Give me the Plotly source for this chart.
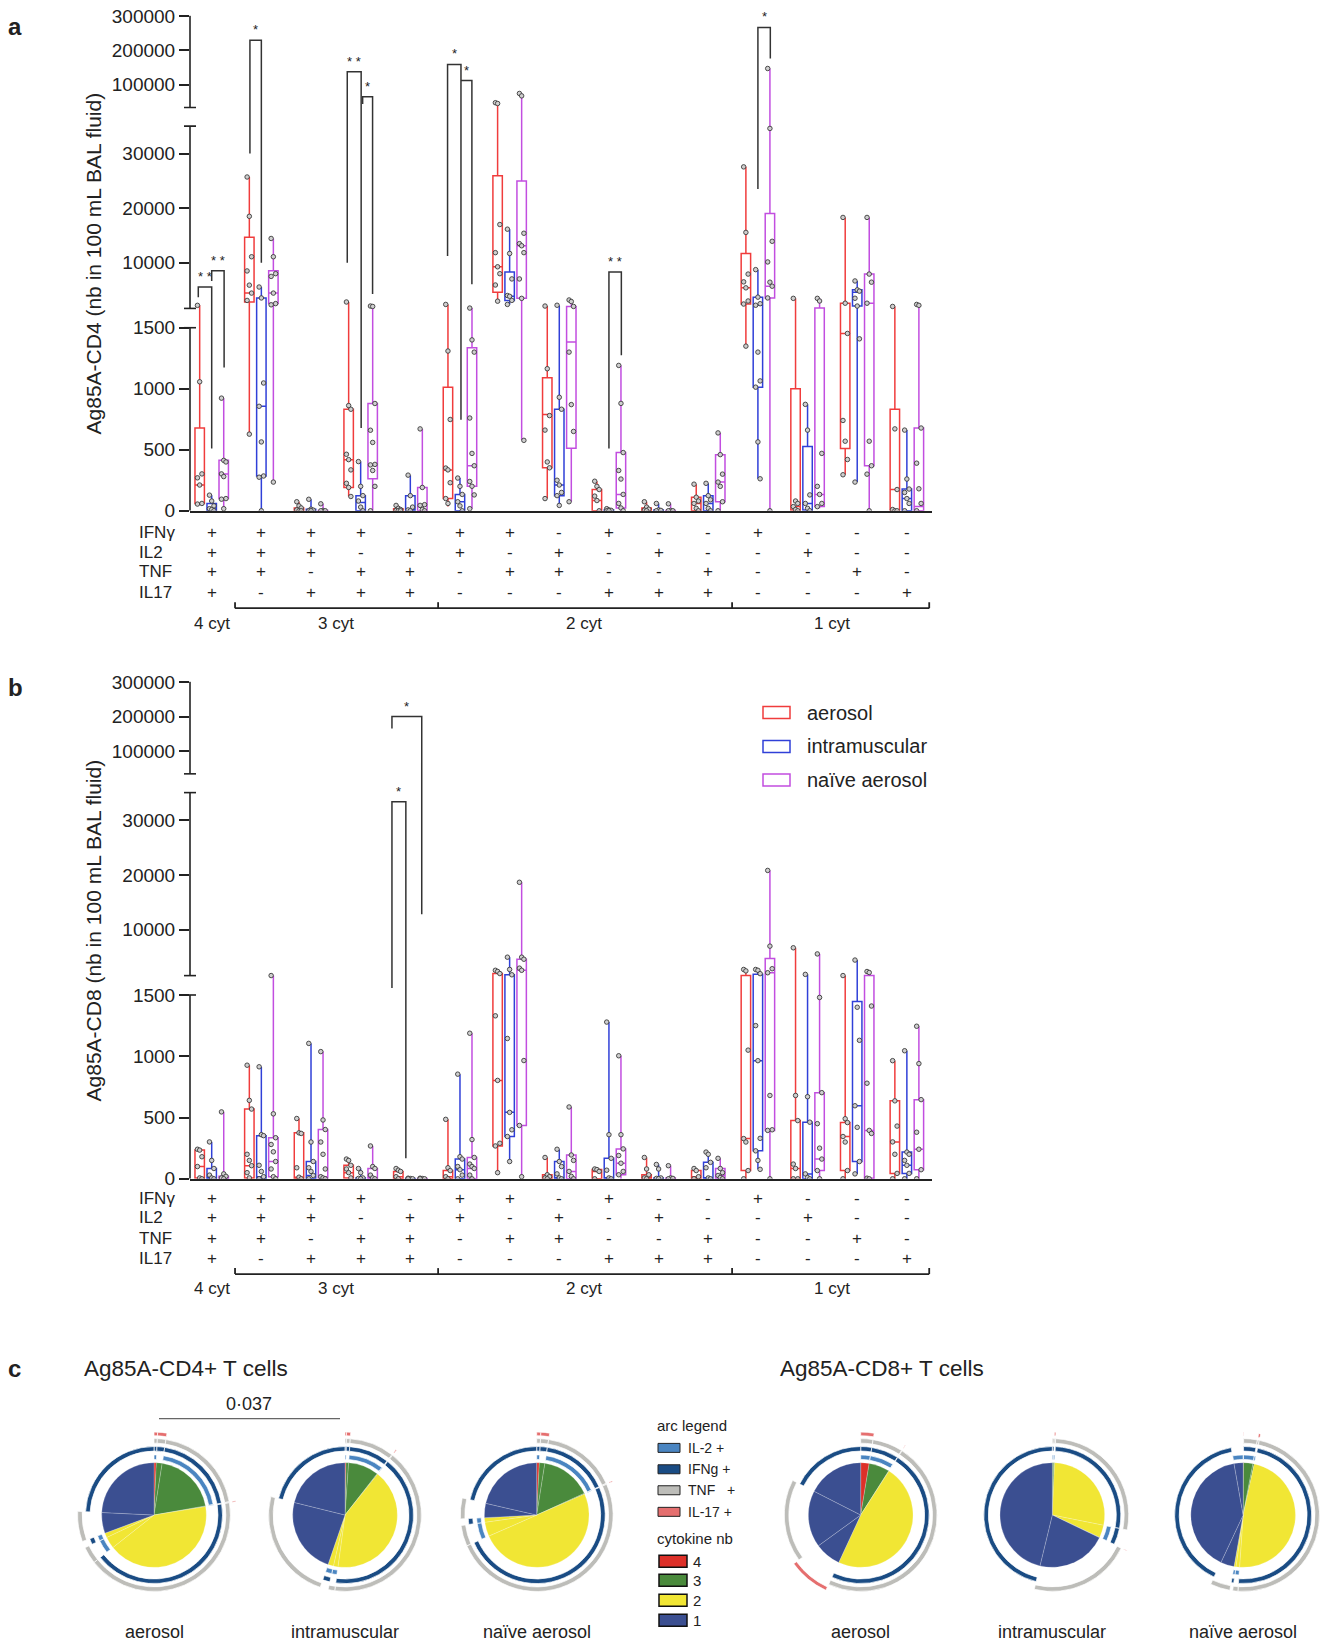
import plotly.graph_objects as go

FONT = "Liberation Sans, Arial, Helvetica, sans-serif"
W, H = 1327, 1652

# ---------------- data ----------------
SUBSETS = ["++++", "+++-", "++-+", "+-++", "-+++",
           "++--", "+-+-", "-++-", "+--+", "-+-+", "--++",
           "+---", "-+--", "--+-", "---+"]          # order: IFNγ, IL2, TNF, IL17
CYTOKINES = ["IFNγ", "IL2", "TNF", "IL17"]
CYT_GROUPS = [("4 cyt", 0, 0), ("3 cyt", 1, 4), ("2 cyt", 5, 10), ("1 cyt", 11, 14)]
SERIES = ["aerosol", "intramuscular", "naïve aerosol"]
SERIES_COLORS = ["#f03c3c", "#3040d8", "#c24ee0"]
Y_TICKS = [0, 500, 1000, 1500, 10000, 20000, 30000, 100000, 200000, 300000]

# box statistics per subset: (min, q1, median, q3, max)
CD4_AEROSOL = [(55, 60, 211, 678, 2200), (628, 2815, 4444, 14667, 25700), (0, 0, 7, 23, 74),
               (117, 191, 419, 832, 2815), (0, 0, 3, 17, 44), (34, 100, 335, 1013, 2370),
               (2963, 4593, 9260, 25926, 47000), (100, 352, 789, 1091, 2074), (0, 0, 84, 174, 242),
               (0, 0, 13, 23, 74), (0, 0, 60, 111, 218), (1349, 2444, 5407, 11704, 27556),
               (0, 7, 34, 1000, 3481), (295, 510, 1453, 2593, 18296), (0, 7, 174, 832, 2000)]
CD4_IM = [(0, 0, 17, 60, 128), (0, 285, 856, 3556, 5556), (0, 0, 3, 13, 94),
          (0, 0, 67, 124, 403), (0, 0, 7, 124, 292), (0, 0, 74, 134, 268),
          (2370, 3111, 3852, 8296, 16148), (44, 124, 211, 832, 2222), (0, 0, 3, 7, 17),
          (0, 0, 3, 7, 60), (0, 0, 60, 124, 225), (262, 1013, 2222, 3704, 8741),
          (0, 7, 60, 527, 872), (235, 2074, 4593, 5037, 6667), (0, 0, 100, 178, 661)]
CD4_NAIVE = [(17, 100, 302, 413, 923), (235, 2519, 4444, 8519, 14444), (0, 0, 0, 3, 57),
             (0, 262, 376, 879, 2074), (0, 0, 44, 191, 671), (17, 201, 369, 1336, 1704),
             (577, 3481, 13111, 24963, 74000), (74, 513, 1383, 2000, 3185), (0, 23, 134, 477, 1191),
             (0, 0, 0, 3, 57), (0, 74, 235, 460, 638), (0, 3556, 5704, 19037, 147000),
             (20, 34, 134, 1704, 3481), (0, 369, 2593, 7926, 18296), (0, 0, 34, 678, 2370)]

CD8_AEROSOL = [(0, 7, 100, 234, 241), (0, 7, 107, 569, 927), (0, 3, 13, 375, 492),
               (0, 7, 50, 110, 161), (0, 0, 17, 60, 84), (0, 0, 17, 67, 485),
               (50, 268, 803, 2015, 2612), (0, 0, 17, 33, 174), (0, 0, 60, 75, 80),
               (0, 0, 7, 33, 174), (0, 0, 17, 67, 84), (0, 67, 328, 1650, 2761),
               (0, 0, 84, 475, 6716), (0, 67, 345, 459, 1650), (0, 44, 301, 636, 964)]
CD8_IM = [(0, 0, 7, 84, 301), (0, 0, 17, 352, 914), (0, 0, 27, 141, 1105),
          (0, 0, 3, 7, 84), (0, 0, 0, 2, 5), (0, 0, 74, 161, 854),
          (141, 345, 542, 1791, 5000), (0, 0, 7, 141, 241), (0, 0, 7, 167, 1279),
          (0, 0, 3, 7, 117), (0, 0, 7, 134, 218), (77, 228, 964, 1866, 2761),
          (0, 0, 40, 462, 1866), (40, 141, 596, 1446, 4478), (0, 44, 110, 218, 1045)]
CD8_NAIVE = [(0, 0, 7, 20, 546), (0, 17, 141, 335, 1650), (0, 7, 17, 402, 1038),
             (0, 0, 7, 84, 268), (0, 0, 0, 2, 5), (0, 0, 84, 174, 1188),
             (17, 435, 2612, 4627, 18657), (0, 0, 60, 194, 586), (0, 33, 127, 244, 1004),
             (0, 0, 3, 7, 107), (0, 0, 27, 84, 167), (0, 395, 2164, 4776, 20821),
             (0, 67, 161, 703, 5597), (0, 5, 395, 1650, 2388), (0, 74, 241, 646, 1245)]

# individual animals per subset
CD4_AEROSOL_PTS = [[2200, 1057, 302, 270, 211, 60, 55], [25700, 18500, 11100, 8500, 5900, 4444, 3100, 628],
                   [74, 40, 23, 7, 0, 0], [2815, 862, 832, 463, 419, 335, 225, 191, 117], [44, 20, 10, 3, 0, 0],
                   [2370, 1309, 748, 350, 335, 230, 100, 60], [47000, 44700, 17000, 11850, 9260, 8000, 5926, 2963],
                   [2074, 1164, 780, 661, 400, 352, 100], [242, 200, 174, 120, 84, 0], [74, 30, 13, 5, 0],
                   [218, 111, 80, 60, 20, 0], [27556, 15556, 7926, 6500, 5407, 3000, 2444, 1349],
                   [3481, 80, 60, 34, 10, 0], [18296, 2593, 1453, 740, 570, 420, 295], [2000, 671, 174, 10, 0, 0]]
CD4_IM_PTS = [[128, 80, 40, 17, 10, 0], [5556, 3556, 1047, 856, 564, 285, 275, 0], [94, 13, 5, 0, 0],
              [403, 200, 124, 80, 30, 0], [292, 124, 30, 7, 0], [268, 200, 134, 74, 40, 0],
              [16148, 11700, 7037, 4000, 3852, 3111, 2370], [2222, 930, 832, 250, 211, 150, 124, 44],
              [17, 7, 3, 0, 0], [60, 7, 3, 0], [225, 124, 90, 60, 20, 0],
              [8741, 3704, 2500, 2222, 1300, 1064, 1013, 564, 262], [872, 661, 130, 60, 20, 0],
              [6667, 5037, 4800, 3500, 2074, 1409, 235], [661, 260, 178, 150, 100, 60, 0]]
CD4_NAIVE_PTS = [[923, 413, 400, 302, 280, 100, 95, 17], [14444, 11100, 8000, 7500, 4444, 2519, 2300, 235],
                 [57, 3, 0, 0], [2074, 2000, 879, 660, 560, 380, 376, 330, 200, 0], [671, 191, 50, 44, 10, 0],
                 [1704, 1400, 1300, 760, 470, 369, 240, 201, 130, 17],
                 [74000, 67000, 15400, 13500, 13111, 11850, 7037, 3481, 577], [3185, 2900, 2000, 1300, 870, 650, 74],
                 [1191, 880, 477, 330, 260, 134, 60, 23, 0], [57, 3, 0, 0], [638, 460, 300, 235, 200, 74, 0],
                 [147000, 34593, 13926, 10148, 6444, 5704, 3556, 0], [3481, 3000, 470, 200, 134, 60, 34],
                 [18296, 7926, 6444, 2593, 570, 369, 300, 0], [2370, 2200, 678, 390, 180, 60, 0]]

CD8_AEROSOL_PTS = [[241, 234, 180, 100, 7, 0], [927, 640, 569, 200, 150, 107, 50, 7], [492, 375, 370, 90, 13, 0],
                   [161, 150, 110, 80, 50, 7], [84, 70, 60, 17, 0], [485, 90, 67, 17, 0],
                   [2612, 2400, 2015, 1330, 803, 290, 268, 50], [174, 33, 17, 7, 0], [80, 75, 60, 0],
                   [174, 80, 33, 7, 0], [84, 67, 17, 0], [2761, 2500, 1050, 328, 300, 67, 0],
                   [6716, 680, 475, 120, 84, 0, 0], [1650, 490, 459, 345, 300, 67, 0], [964, 636, 430, 301, 200, 44, 0]]
CD8_IM_PTS = [[301, 150, 84, 30, 7, 0], [914, 360, 352, 110, 60, 17, 0], [1105, 300, 141, 90, 60, 27, 0],
              [84, 50, 7, 3, 0], [5, 2, 0, 0], [854, 180, 161, 100, 74, 30, 0],
              [5000, 2761, 1791, 1145, 542, 400, 345, 141], [241, 141, 100, 40, 7, 0], [1279, 360, 167, 70, 7, 0],
              [117, 80, 7, 3, 0], [218, 200, 134, 90, 7, 0], [2761, 2600, 2000, 1250, 964, 330, 228, 150, 77],
              [1866, 670, 462, 40, 10, 0], [4478, 1400, 1130, 596, 420, 141, 40], [1045, 218, 200, 150, 110, 44, 0]]
CD8_NAIVE_PTS = [[546, 40, 20, 7, 0], [1650, 530, 335, 280, 220, 141, 80, 17, 0],
                 [1038, 480, 402, 300, 200, 80, 17, 7, 0], [268, 100, 84, 30, 7, 0], [5, 2, 0, 0],
                 [1188, 320, 174, 120, 100, 84, 30, 0], [18657, 5000, 4627, 3000, 2612, 965, 435, 17],
                 [586, 194, 150, 60, 20, 0], [1004, 360, 244, 190, 127, 60, 33], [107, 7, 3, 0],
                 [167, 84, 50, 27, 10, 0], [20821, 7015, 2900, 2164, 680, 400, 395, 0],
                 [5597, 1480, 703, 450, 250, 161, 67, 0], [2388, 2200, 1410, 780, 395, 370, 5, 0],
                 [1245, 940, 646, 380, 241, 74, 0]]

# significance brackets: (subset, left offset, right offset, top, left-leg end, right-leg end, label)
CD4_SIG = [(0, -0.27, 0.0, 5556, 3704, 510, "* *"), (0, 0.0, 0.25, 8519, 6667, 1174, "* *"),
           (1, -0.23, 0.0, 229400, 30000, 10000, "*"), (3, -0.27, 0.01, 137600, 10000, 678, "* *"),
           (3, 0.04, 0.24, 64700, 43500, 4300, "*"), (5, -0.25, 0.02, 158800, 11259, 745, "*"),
           (5, 0.02, 0.24, 111800, 111800, 6074, "*"), (8, 0.0, 0.25, 8296, 510, 1275, "* *"),
           (11, 0.0, 0.25, 267000, 23481, 176500, "*")]
CD8_SIG = [(4, -0.37, -0.09, 33358, 1550, 167, "*"), (4, -0.37, 0.23, 200000, 165000, 12836, "*")]

# SPICE pies: percentage of each subset (index order of SUBSETS)
CD4_AEROSOL_PIE = [0.7, 19.7, 0, 1.8, 0.2, 1.4, 41.9, 3.6, 0, 0, 0, 24.2, 0, 6.4, 0]
CD4_IM_PIE = [0.3, 9.4, 0, 0.8, 0.2, 1.7, 41.4, 1.4, 0, 0, 0, 21.1, 0, 23.6, 0]
CD4_NAIVE_PIE = [0.8, 15.7, 0, 1.7, 0.2, 1.4, 50.0, 4.4, 0, 0, 0, 21.4, 0, 4.4, 0]
CD8_AEROSOL_PIE = [2.6, 6.4, 0, 0, 0.1, 0, 47.8, 0, 0, 0, 0, 17.5, 0, 17.5, 8.1]
CD8_IM_PIE = [0, 0.4, 0, 0, 0.3, 3.9, 27.5, 0, 0, 0, 0, 46.3, 0, 21.7, 0.1]
CD8_NAIVE_PIE = [0.1, 2.9, 0, 0, 0.4, 0.6, 47.8, 1.1, 0, 0, 0, 40.3, 2.8, 4.2, 0]
PIE_ORDER = [0, 3, 1, 2, 4, 8, 9, 10, 6, 7, 5, 14, 13, 11, 12]
COUNT_COLORS = {4: "#dd3029", 3: "#4a8a3c", 2: "#f1e634", 1: "#3b4f91"}
RING_SPEC = [(1, 56.3, 4.6, "#4a85c1"),   # IL-2
             (0, 64.8, 4.6, "#1a4c84"),   # IFNg
             (2, 72.8, 4.6, "#bdbdb9"),   # TNF
             (3, 80.3, 3.7, "#e56f6f")]   # IL-17

# ---------------- helpers ----------------
YS, YO = 0.988, 10.5   # vertical compensation of the page capture


def px(x):
    return x / W


def sy(y):
    """target pixel row -> figure pixel row"""
    return y / YS - YO


def py(y):
    return 1 - sy(y) / H


def T(v):
    """broken y scale: 0-1500 | 1640-35000 | 35000-300000"""
    if v <= 1500:
        return v * 184 / 1500
    if v < 1640:
        return 184 + (v - 1500) * 19.4 / 140
    if v <= 35000:
        return 203.4 + (v - 1640) * 0.00549
    return 428.4 + (v - 100000) * 0.000344


OFFSETS = [-0.242, 0.0, 0.242]
fig = go.Figure()
shapes = []
anns = []


def ann(x, y, text, size, xref="paper", yref="paper", xanchor="center", yanchor="middle", **kw):
    anns.append(dict(x=x, y=y, text=text, xref=xref, yref=yref, xanchor=xanchor, yanchor=yanchor,
                     showarrow=False, font=dict(family=FONT, size=size, color=kw.pop("color", "#222")), **kw))


def y_domain(top_px, zero_px):
    zs, ts = sy(zero_px), sy(top_px)
    k = (zs - ts) / 497.2
    return [1 - zs / H, 1 - (zs - 498 * k) / H]


def add_panel(stats_list, pts_list, sig, xa, ya, top_px, zero_px, title, letter, letter_y,
              row_ys, bracket_y, label_y):
    yref = "y" if ya == "y" else "y2"
    xref = "x" if xa == "x" else "x2"
    for s, (stats, pts) in enumerate(zip(stats_list, pts_list)):
        off = OFFSETS[s]
        fig.add_trace(go.Box(
            x=[g + off for g in range(15)],
            lowerfence=[T(b[0]) for b in stats], q1=[T(b[1]) for b in stats],
            median=[T(b[2]) for b in stats], q3=[T(b[3]) for b in stats],
            upperfence=[T(b[4]) for b in stats],
            width=0.19, whiskerwidth=0, boxpoints=False,
            line=dict(color=SERIES_COLORS[s], width=1.5), fillcolor="rgba(255,255,255,0)",
            xaxis=xa, yaxis=ya, showlegend=False, hoverinfo="skip"))
        xs, ys = [], []
        for g, vals in enumerate(pts):
            for i, v in enumerate(vals):
                xs.append(g + off + ((i % 3) - 1) * 0.045)
                ys.append(T(v))
        fig.add_trace(go.Scatter(x=xs, y=ys, mode="markers",
                                 marker=dict(size=4.5, color="#cfcfcf", line=dict(color="#3a3a3a", width=0.9)),
                                 xaxis=xa, yaxis=ya, showlegend=False, hoverinfo="skip"))
    # broken y axis line
    ax_x = px(190)
    for a, b in [(0, T(1500)), (203.4, 386.6), (405.4, T(300000) + 0.5)]:
        shapes.append(dict(type="line", xref="paper", yref=yref, x0=ax_x, x1=ax_x, y0=a, y1=b,
                           line=dict(color="#222", width=1.6)))
    for yb in [T(1500), 203.4, 386.6, 405.4]:
        shapes.append(dict(type="line", xref="paper", yref=yref, x0=px(184), x1=px(196), y0=yb, y1=yb,
                           line=dict(color="#222", width=1.6)))
    # significance brackets
    for g, o1, o2, top, l1, l2, lab in sig:
        x1, x2 = g + o1, g + o2
        shapes.append(dict(type="path", xref=xref, yref=yref,
                           path=f"M {x1},{T(l1)} L {x1},{T(top)} L {x2},{T(top)} L {x2},{T(l2)}",
                           line=dict(color="#333", width=1.5)))
        ann((x1 + x2) / 2, T(top), lab, 13, xref=xref, yref=yref, yanchor="bottom", yshift=1)
    # axis title & letter
    ann(px(93), py((top_px + zero_px) / 2), title, 21, textangle=-90)
    ann(px(6), py(letter_y), f"<b>{letter}</b>", 24, xanchor="left")
    # +/- table
    for r, name in enumerate(CYTOKINES):
        ann(px(137), py(row_ys[r]), name, 17, xanchor="left")
        for g, code in enumerate(SUBSETS):
            ann(g, py(row_ys[r]), code[r], 17, xref=xref)
    # cytokine count brackets
    shapes.append(dict(type="line", xref=xref, yref="paper", x0=0.47, x1=14.45,
                       y0=py(bracket_y), y1=py(bracket_y), line=dict(color="#222", width=1.8)))
    for xt in [0.47, 4.56, 10.48, 14.45]:
        shapes.append(dict(type="line", xref=xref, yref="paper", x0=xt, x1=xt,
                           y0=py(bracket_y), y1=py(bracket_y - 6), line=dict(color="#222", width=1.8)))
    for name, g0, g1 in CYT_GROUPS:
        ann((g0 + g1) / 2, py(label_y), name, 17, xref=xref)


add_panel([CD4_AEROSOL, CD4_IM, CD4_NAIVE], [CD4_AEROSOL_PTS, CD4_IM_PTS, CD4_NAIVE_PTS], CD4_SIG,
          "x", "y", 16.5, 511.5, "Ag85A-CD4 (nb in 100 mL BAL fluid)", "a", 26.5,
          [533, 553, 572, 593], 609, 624)
add_panel([CD8_AEROSOL, CD8_IM, CD8_NAIVE], [CD8_AEROSOL_PTS, CD8_IM_PTS, CD8_NAIVE_PTS], CD8_SIG,
          "x2", "y2", 683.0, 1180, "Ag85A-CD8 (nb in 100 mL BAL fluid)", "b", 688,
          [1199.5, 1219, 1239.7, 1259.8], 1275.4, 1289.7)

# legend for panel b
for i, (name, col) in enumerate(zip(SERIES, SERIES_COLORS)):
    yc = [713.5, 747.3, 781][i]
    shapes.append(dict(type="rect", xref="paper", yref="paper", x0=px(763), x1=px(790),
                       y0=py(yc + 6), y1=py(yc - 6), line=dict(color=col, width=1.5), fillcolor="white"))
    ann(px(805), py(yc), name, 20, xanchor="left")

# ---------------- panel c: pies ----------------
PIES = [("polar", CD4_AEROSOL_PIE, 154.0, "aerosol"), ("polar2", CD4_IM_PIE, 345.0, "intramuscular"),
        ("polar3", CD4_NAIVE_PIE, 536.7, "naïve aerosol"), ("polar4", CD8_AEROSOL_PIE, 860.7, "aerosol"),
        ("polar5", CD8_IM_PIE, 1052.3, "intramuscular"), ("polar6", CD8_NAIVE_PIE, 1243.3, "naïve aerosol")]
CY = 1516.5
polar_layouts = {}
for pname, fr, cx, label in PIES:
    total = sum(fr)
    start = 0.0
    thetas, widths, colors, subs = [], [], [], []
    for s in PIE_ORDER:
        w = fr[s] / total * 360
        if w <= 0:
            continue
        thetas.append(start + w / 2)
        widths.append(w)
        subs.append(s)
        colors.append(COUNT_COLORS[SUBSETS[s].count("+")])
        start += w
    n = len(thetas)
    fig.add_trace(go.Barpolar(r=[53] * n, base=[0] * n, theta=thetas, width=widths,
                              marker=dict(color=colors, line=dict(color="rgba(255,255,255,0.35)", width=0.6)),
                              subplot=pname, showlegend=False, hoverinfo="skip"))
    for ci, inner, th, col in RING_SPEC:
        sel = [i for i, s in enumerate(subs) if SUBSETS[s][ci] == "+"]
        fig.add_trace(go.Barpolar(r=[th] * len(sel), base=[inner] * len(sel),
                                  theta=[thetas[i] for i in sel], width=[widths[i] for i in sel],
                                  marker=dict(color=col, line=dict(color="white", width=0.7)),
                                  subplot=pname, showlegend=False, hoverinfo="skip"))
    cys = sy(CY)
    polar_layouts[pname] = dict(
        domain=dict(x=[max(0, px(cx - 84)), min(1, px(cx + 84))], y=[1 - (cys + 84) / H, 1 - (cys - 84) / H]),
        bgcolor="rgba(0,0,0,0)", barmode="overlay",
        radialaxis=dict(visible=False, range=[0, 84], showgrid=False),
        angularaxis=dict(visible=False, rotation=90, direction="clockwise", showgrid=False))
    anns.append(dict(x=px(cx), y=1 - 1643 / H, text=label, xref="paper", yref="paper", xanchor="center",
                     yanchor="middle", showarrow=False, font=dict(family=FONT, size=18, color="#222")))

ann(px(6), py(1370), "<b>c</b>", 24, xanchor="left")
ann(px(82), py(1370), "Ag85A-CD4+ T cells", 22.5, xanchor="left")
ann(px(778), py(1370), "Ag85A-CD8+ T cells", 22.5, xanchor="left")
ann(px(249), py(1405), "0·037", 18)
shapes.append(dict(type="line", xref="paper", yref="paper", x0=px(159), x1=px(340), y0=py(1420), y1=py(1420),
                   line=dict(color="#666", width=1.2)))

# arc legend
ann(px(655), py(1427), "arc legend", 15, xanchor="left")
for i, (lab, col) in enumerate([("IL-2 +", "#4a85c1"), ("IFNg +", "#1a4c84"),
                                ("TNF\u00a0\u00a0\u00a0+", "#bdbdb9"), ("IL-17 +", "#e56f6f")]):
    yc = [1449.3, 1470.7, 1491.7, 1513.3][i]
    shapes.append(dict(type="rect", xref="paper", yref="paper", x0=px(658), x1=px(680),
                       y0=py(yc + 4.5), y1=py(yc - 4.5), line=dict(color="#222", width=1), fillcolor=col))
    ann(px(686), py(yc), lab, 14, xanchor="left")
ann(px(655), py(1540), "cytokine nb", 15, xanchor="left")
for i, k in enumerate([4, 3, 2, 1]):
    yc = [1562.7, 1581.7, 1601.7, 1621.7][i]
    shapes.append(dict(type="rect", xref="paper", yref="paper", x0=px(659), x1=px(687),
                       y0=py(yc + 6), y1=py(yc - 6), line=dict(color="#111", width=1.5),
                       fillcolor=COUNT_COLORS[k]))
    ann(px(691), py(yc), str(k), 15, xanchor="left")

# ---------------- layout ----------------
xcommon = dict(range=[-0.437, 14.5], domain=[px(190), px(931.7)], showgrid=False, zeroline=False,
               showticklabels=False, ticks="", showline=True, linecolor="#222", linewidth=1.6)
tickvals = [T(v) for v in Y_TICKS]
ticktext = [str(v) for v in Y_TICKS]
ycommon = dict(range=[0, 498], tickvals=tickvals, ticktext=ticktext, ticks="outside", ticklen=10,
               tickwidth=1.5, tickcolor="#222", showline=False, showgrid=False, zeroline=False,
               tickfont=dict(family=FONT, size=19, color="#222"))
fig.update_layout(
    width=W, height=H, margin=dict(l=0, r=0, t=0, b=0),
    paper_bgcolor="white", plot_bgcolor="rgba(0,0,0,0)",
    font=dict(family=FONT, color="#222"),
    xaxis=dict(**xcommon, anchor="y"),
    yaxis=dict(**ycommon, anchor="x", domain=y_domain(16.5, 511.5)),
    xaxis2=dict(**xcommon, anchor="y2"),
    yaxis2=dict(**ycommon, anchor="x2", domain=y_domain(683.0, 1180)),
    boxmode="overlay",
    shapes=shapes, annotations=anns,
    **polar_layouts)

fig.write_html("out.html", config={"displayModeBar": False})
